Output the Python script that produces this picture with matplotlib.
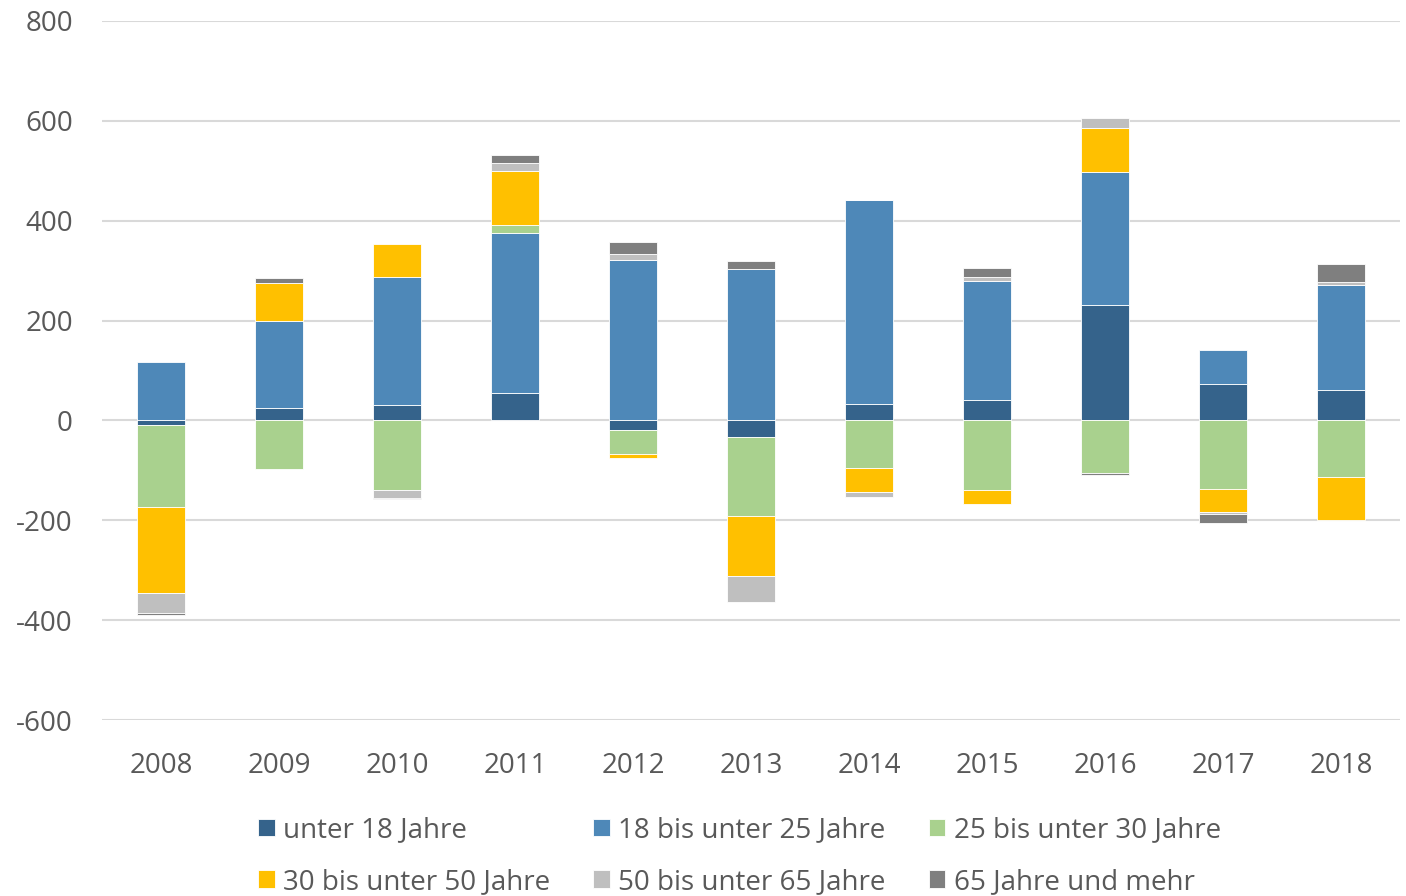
import numpy as np
import matplotlib
matplotlib.use('Agg')
import matplotlib.pyplot as plt

plt.rcParams['font.family'] = ['Open Sans', 'DejaVu Sans']

# Daten
jahre = ['2008', '2009', '2010', '2011', '2012', '2013', '2014', '2015', '2016', '2017', '2018']
unter_18 = [-10, 25, 31, 55, -20, -34, 33, 41, 232, 72, 60]
j18_25 = [117, 175, 257, 321, 321, 303, 409, 238, 265, 70, 212]
j25_30 = [-163, -97, -140, 15, -48, -157, -96, -140, -106, -137, -114]
j30_50 = [-172, 75, 66, 109, -8, -120, -47, -28, 88, -46, -85]
j50_65 = [-41, 0, -15, 16, 13, -52, -10, 8, 21, -5, 5]
j65_plus = [-3, 10, -3, 15, 24, 17, 0, 19, -3, -17, 37]

serien = [unter_18, j18_25, j25_30, j30_50, j50_65, j65_plus]
namen = ['unter 18 Jahre', '18 bis unter 25 Jahre', '25 bis unter 30 Jahre',
         '30 bis unter 50 Jahre', '50 bis unter 65 Jahre', '65 Jahre und mehr']
farben = ['#35638B', '#4E88B8', '#A9D18E', '#FFC000', '#BFBFBF', '#7F7F7F']

fig = plt.figure(figsize=(14.06, 8.96), dpi=100)
ax = fig.add_axes([0.0725, 0.1964, 0.9232, 0.7802])

x = np.arange(len(jahre))
pos_basis = np.zeros(len(jahre))
neg_basis = np.zeros(len(jahre))
handles = []
for werte, name, farbe in zip(serien, namen, farben):
    w = np.array(werte, dtype=float)
    basis = np.where(w >= 0, pos_basis, neg_basis)
    h = ax.bar(x, w, width=0.4, bottom=basis, color=farbe, label=name,
               edgecolor='white', linewidth=0.6, zorder=3)
    handles.append(h)
    pos_basis += np.where(w > 0, w, 0)
    neg_basis += np.where(w < 0, w, 0)

ax.set_xlim(-0.5, len(jahre) - 0.5)
ax.set_ylim(-600, 800)
ax.set_yticks(range(-600, 801, 200))
ax.set_yticklabels([str(v) for v in range(-600, 801, 200)])
ax.set_xticks(x)
ax.set_xticklabels(jahre)
ax.grid(axis='y', color='#D9D9D9', linewidth=1.5, zorder=0)
for s in ax.spines.values():
    s.set_visible(False)
ax.tick_params(length=0, labelsize=20, colors='#595959')
ax.tick_params(axis='x', pad=23)
ax.tick_params(axis='y', pad=21)

# Legende zeilenweise anordnen
reihenfolge = [0, 3, 1, 4, 2, 5]
leg = fig.legend([handles[i] for i in reihenfolge], [namen[i] for i in reihenfolge],
                 ncol=3, loc='upper left', bbox_to_anchor=(0.1835, 0.089),
                 frameon=False, fontsize=20, handlelength=0.6, handleheight=0.6,
                 handletextpad=0.3, columnspacing=1.55, labelspacing=0.85,
                 borderaxespad=0, borderpad=0)
for t in leg.get_texts():
    t.set_color('#595959')

fig.savefig('out.png', dpi=100)
